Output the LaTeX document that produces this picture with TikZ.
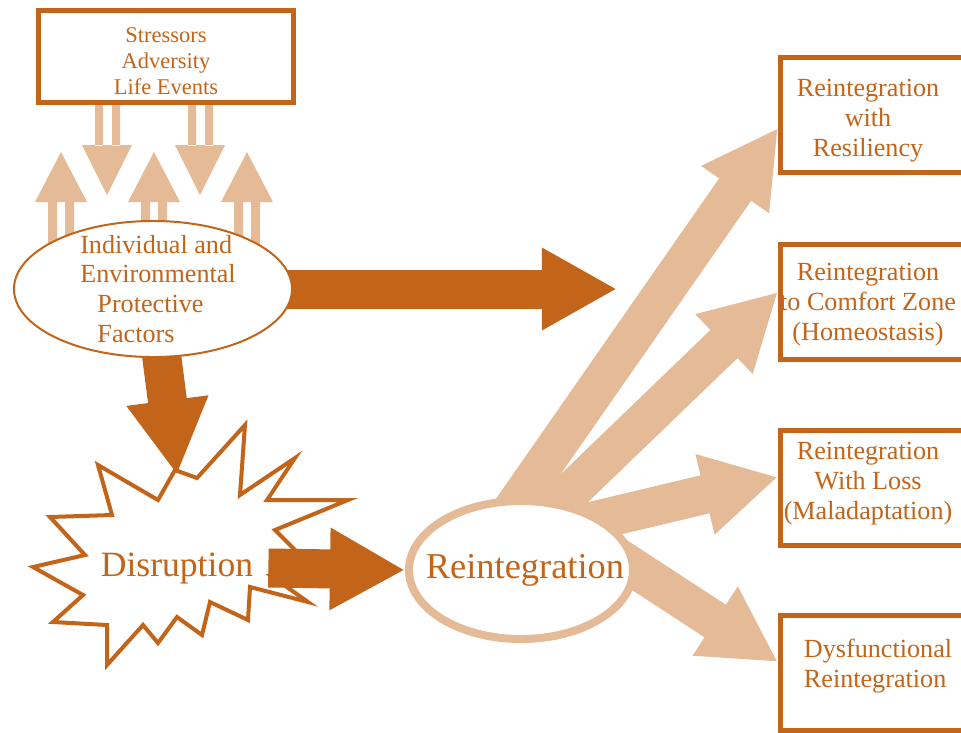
\documentclass[tikz,border=0pt]{standalone}
\usepackage{fontspec}
\setmainfont{Liberation Serif}
\usetikzlibrary{arrows.meta,shapes.geometric}
\definecolor{rust}{HTML}{C2651A}
\definecolor{sand}{HTML}{E5BA96}
\pgfdeclarelayer{back}
\pgfdeclarelayer{mid}
\pgfsetlayers{back,mid,main}
\tikzset{
  fatarrow/.style={line width=0.975cm, -{Triangle[width=1.925cm,length=1.875cm]}},
  outbox/.style={draw=rust, line width=0.125cm, fill=white, anchor=west,
    minimum width=6cm, minimum height=2.875cm},
  outtext/.style={text=rust, align=center, font=\fontsize{18.6}{21.3}\selectfont},
}

\begin{document}
\begin{tikzpicture}[x=0.025cm, y=-0.025cm]
  \useasboundingbox (0,0) rectangle (961,732);
  \clip (0,0) rectangle (961,732);

  % stressors
  \node[draw=rust, line width=0.125cm, minimum width=6.375cm, minimum height=2.3cm,
    label={[text=rust, align=center, yshift=-0.125cm, font=\fontsize{16}{18.5}\selectfont]center:Stressors\\Adversity\\Life Events}]
    (stress) at (166,56.5) {};

  % protective factors
  \node[ellipse, draw=rust, line width=0.05cm, fill=white, minimum width=6.95cm,
    minimum height=3.4cm, inner sep=0,
    label={[text=rust, align=left, xshift=0.125cm, font=\fontsize{18.6}{21.3}\selectfont]center:Individual and\\Environmental\\\hspace{0.43cm}Protective\\\hspace{0.43cm}Factors}]
    (prot) at (153,289) {};

  \node[ellipse, draw=sand, line width=0.2cm, fill=white, minimum width=5.6cm,
    minimum height=3.45cm, inner sep=0,
    label={[text=rust, xshift=0.1cm, font=\fontsize{25.9}{30}\selectfont]center:Reintegration}]
    (reint) at (521,570) {};

  \node[text=rust, inner xsep=0.375cm, font=\fontsize{25.3}{28}\selectfont] (disr) at (177,568) {Disruption};

  % outcomes
  \node[outbox, label={[outtext, xshift=-0.8125cm, yshift=-0.15cm]center:Reintegration\\with\\Resiliency}] (res) at (778,115) {};
  \node[outbox, label={[outtext, xshift=-0.8125cm, yshift=-0.075cm]center:Reintegration\\to Comfort Zone\\(Homeostasis)}] (com) at (778,302) {};
  \node[outbox, label={[outtext, xshift=-0.8125cm, yshift=0.1cm]center:Reintegration\\With Loss\\(Maladaptation)}] (mal) at (778,488) {};
  \node[outbox, label={[outtext, align=left, xshift=-0.5625cm, yshift=0.175cm]center:Dysfunctional\\Reintegration}] (dys) at (778,673) {};

  \coordinate (gap) at (617,289);
  \coordinate (hit) at (177,475);

  \begin{pgfonlayer}{back}
    \draw[rust, line width=0.1cm, fill=white] (245,425) -- (240,495) -- (295,458) -- (267,500)
      -- (348,500) -- (275,530) -- (305,560) -- (270,575) -- (308,602) -- (250,587)
      -- (248,620) -- (210,602) -- (202,635) -- (177,617) -- (158,643) -- (143,625)
      -- (107,665) -- (107,625) -- (53,622) -- (83,595) -- (33,567) -- (85,555)
      -- (50,517) -- (112,515) -- (98,465) -- (158,500) -- (175,470) -- (197,478) -- cycle;
  \end{pgfonlayer}

  \begin{pgfonlayer}{mid}
    \foreach \cx in {107,200}
      \fill[sand] (\cx-12,105) rectangle (\cx-4,146) (\cx+5,105) rectangle (\cx+13,146)
        (\cx-25,145) -- (\cx+25,145) -- (\cx,195) -- cycle;
    \foreach \cx in {61,154,247}
      \fill[sand] (\cx-13,200) rectangle (\cx-4,265) (\cx+4,200) rectangle (\cx+13,265)
        (\cx-26,202) -- (\cx+26,202) -- (\cx,152) -- cycle;

    \draw[rust, fatarrow] (prot.center) -- (gap);
    \draw[rust, fatarrow] (prot.center) -- (hit);
    \draw[rust, fatarrow] (disr.east) -- (reint.west);

    \draw[sand, fatarrow, shorten <=-0.6cm] (reint.90) -- ([yshift=-0.325cm]res.west);
    \draw[sand, fatarrow, shorten <=-0.6cm] (reint.60) -- ([yshift=0.25cm]com.west);
    \draw[sand, fatarrow, shorten <=-0.6cm] (reint.32) -- ([yshift=0.275cm]mal.west);
    \draw[sand, fatarrow, shorten <=-0.6cm] (reint.0) -- ([yshift=0.275cm]dys.west);
  \end{pgfonlayer}
\end{tikzpicture}
\end{document}
